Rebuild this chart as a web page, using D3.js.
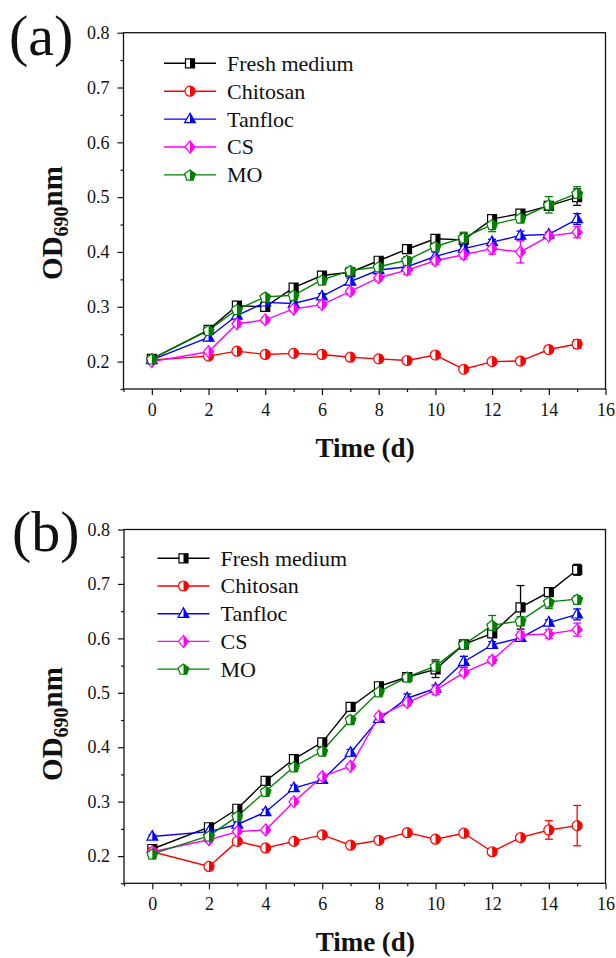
<!DOCTYPE html>
<html>
<head>
<meta charset="utf-8">
<script src="https://cdn.jsdelivr.net/npm/d3@7/dist/d3.min.js"></script>
<style>
  html, body { margin: 0; padding: 0; background: #fff; }
  svg { display: block; }
  text { font-family: "Liberation Serif", "Times New Roman", serif; fill: #111; }
</style>
</head>
<body>
<svg id="chart" width="616" height="958"></svg>
<script>
// Sampling days (no measurement on day 1)
const days = [0, 2, 3, 4, 5, 6, 7, 8, 9, 10, 11, 12, 13, 14, 15];

const seriesNames = ["Fresh medium", "Chitosan", "Tanfloc", "CS", "MO"];
const seriesColors = ["#000000", "#ff0000", "#0000ff", "#ff00ff", "#008000"];
const seriesSymbols = ["square", "circle", "triangle", "diamond", "pentagon"];

const xTicks = [0, 2, 4, 6, 8, 10, 12, 14, 16];
const yTicks = [0.2, 0.3, 0.4, 0.5, 0.6, 0.7, 0.8];

// Panel (a): OD690nm
const freshA    = [0.205, 0.258, 0.302, 0.300, 0.335, 0.357, 0.363, 0.384, 0.405, 0.424, 0.422, 0.460, 0.470, 0.484, 0.500];
const chitosanA = [0.203, 0.210, 0.219, 0.213, 0.215, 0.213, 0.208, 0.205, 0.202, 0.212, 0.186, 0.200, 0.201, 0.222, 0.232];
const tanflocA  = [0.203, 0.244, 0.284, 0.308, 0.306, 0.319, 0.346, 0.367, 0.373, 0.392, 0.406, 0.418, 0.430, 0.432, 0.460];
const csA       = [0.200, 0.218, 0.269, 0.276, 0.296, 0.304, 0.328, 0.353, 0.367, 0.384, 0.395, 0.406, 0.400, 0.429, 0.436];
const moA       = [0.205, 0.257, 0.295, 0.318, 0.321, 0.349, 0.366, 0.373, 0.385, 0.410, 0.426, 0.450, 0.462, 0.486, 0.507];

const freshErrA    = [0.004, 0.004, 0.005, 0.005, 0.005, 0.004, 0.004, 0.005, 0.004, 0.005, 0.012, 0.005, 0.007, 0.005, 0.015];
const chitosanErrA = [0.003, 0.003, 0.004, 0.003, 0.003, 0.003, 0.003, 0.003, 0.003, 0.004, 0.004, 0.003, 0.004, 0.004, 0.008];
const tanflocErrA  = [0.003, 0.006, 0.005, 0.005, 0.004, 0.005, 0.006, 0.005, 0.005, 0.008, 0.006, 0.005, 0.008, 0.004, 0.010];
const csErrA       = [0.003, 0.004, 0.005, 0.005, 0.005, 0.005, 0.006, 0.006, 0.008, 0.007, 0.008, 0.010, 0.020, 0.005, 0.010];
const moErrA       = [0.003, 0.005, 0.005, 0.005, 0.006, 0.005, 0.005, 0.005, 0.006, 0.006, 0.010, 0.013, 0.007, 0.015, 0.012];

// Panel (b): OD690nm
const freshB    = [0.213, 0.253, 0.287, 0.338, 0.378, 0.409, 0.474, 0.512, 0.529, 0.543, 0.589, 0.609, 0.657, 0.685, 0.726];
const chitosanB = [0.208, 0.181, 0.227, 0.215, 0.227, 0.239, 0.220, 0.229, 0.243, 0.231, 0.242, 0.208, 0.234, 0.248, 0.256];
const tanflocB  = [0.236, 0.245, 0.258, 0.281, 0.325, 0.340, 0.390, 0.452, 0.490, 0.508, 0.557, 0.588, 0.601, 0.629, 0.644];
const csB       = [0.208, 0.230, 0.245, 0.248, 0.300, 0.346, 0.365, 0.457, 0.482, 0.505, 0.537, 0.560, 0.606, 0.608, 0.616];
const moB       = [0.204, 0.237, 0.273, 0.319, 0.364, 0.393, 0.451, 0.502, 0.529, 0.549, 0.589, 0.624, 0.632, 0.667, 0.672];

const freshErrB    = [0.004, 0.004, 0.005, 0.005, 0.005, 0.005, 0.005, 0.005, 0.004, 0.015, 0.006, 0.006, 0.040, 0.005, 0.010];
const chitosanErrB = [0.003, 0.004, 0.004, 0.004, 0.004, 0.004, 0.004, 0.004, 0.004, 0.004, 0.004, 0.004, 0.005, 0.017, 0.037];
const tanflocErrB  = [0.003, 0.004, 0.004, 0.005, 0.005, 0.005, 0.006, 0.006, 0.008, 0.006, 0.010, 0.006, 0.006, 0.005, 0.010];
const csErrB       = [0.003, 0.004, 0.004, 0.005, 0.005, 0.005, 0.005, 0.005, 0.006, 0.008, 0.006, 0.006, 0.006, 0.008, 0.012];
const moErrB       = [0.003, 0.004, 0.005, 0.005, 0.005, 0.005, 0.006, 0.006, 0.006, 0.012, 0.006, 0.018, 0.008, 0.012, 0.006];

const svg = d3.select("#chart");

// ---- marker shapes: full outline and right-half fill ----
function polyPath(pts) {
  return "M" + pts.map(p => p[0].toFixed(2) + "," + p[1].toFixed(2)).join("L") + "Z";
}
function clipRightHalf(pts) {
  const out = [];
  for (let i = 0; i < pts.length; i++) {
    const a = pts[i], b = pts[(i + 1) % pts.length];
    const ain = a[0] >= 0, bin = b[0] >= 0;
    if (ain) out.push(a);
    if (ain !== bin) {
      const t = (0 - a[0]) / (b[0] - a[0]);
      out.push([0, a[1] + t * (b[1] - a[1])]);
    }
  }
  return out;
}
function shapePoints(sym) {
  switch (sym) {
    case "square":   return [[-4.5, -4.5], [4.5, -4.5], [4.5, 4.5], [-4.5, 4.5]];
    case "triangle": return [[0, -6], [5.4, 3.6], [-5.4, 3.6]];
    case "diamond":  return [[0, -6], [5, 0], [0, 6], [-5, 0]];
    case "pentagon": return d3.range(5).map(k => {
      const a = (-90 + 72 * k) * Math.PI / 180;
      return [5.6 * Math.cos(a), 5.6 * Math.sin(a) + 0.6];
    });
  }
  return null;
}
function markerPaths(sym) {
  if (sym === "circle") {
    const r = 5;
    return {
      full: `M0,${-r}A${r},${r} 0 1 1 0,${r}A${r},${r} 0 1 1 0,${-r}Z`,
      half: `M0,${-r}A${r},${r} 0 0 1 0,${r}Z`
    };
  }
  const pts = shapePoints(sym);
  return { full: polyPath(pts), half: polyPath(clipRightHalf(pts)) };
}
function drawMarker(g, x, y, sym, color) {
  const p = markerPaths(sym);
  const m = g.append("g").attr("transform", `translate(${x},${y})`);
  m.append("path").attr("d", p.full).attr("fill", "#fff");
  m.append("path").attr("d", p.half).attr("fill", color);
  m.append("path").attr("d", p.full).attr("fill", "none")
    .attr("stroke", color).attr("stroke-width", 1.2);
}

// ---- one panel ----
function drawPanel(cfg) {
  const x = d3.scaleLinear().domain([-1, 16]).range([cfg.left, cfg.right]);
  const y = d3.scaleLinear().domain([0.15, 0.8]).range([cfg.bottom, cfg.top]);
  const g = svg.append("g");

  // minor ticks
  g.append("g").attr("transform", `translate(0,${cfg.bottom})`)
    .call(d3.axisBottom(x).tickValues(d3.range(-1, 16, 2)).tickSize(3).tickFormat(""))
    .call(a => a.select(".domain").remove());
  g.append("g").attr("transform", `translate(${cfg.left},0)`)
    .call(d3.axisLeft(y).tickValues([0.15, 0.25, 0.35, 0.45, 0.55, 0.65, 0.75]).tickSize(3).tickFormat(""))
    .call(a => a.select(".domain").remove());

  // major ticks with labels
  const xa = g.append("g").attr("transform", `translate(0,${cfg.bottom})`)
    .call(d3.axisBottom(x).tickValues(xTicks).tickSize(6).tickPadding(8).tickFormat(d3.format("d")));
  xa.select(".domain").remove();
  const ya = g.append("g").attr("transform", `translate(${cfg.left},0)`)
    .call(d3.axisLeft(y).tickValues(yTicks).tickSize(6).tickPadding(8).tickFormat(d3.format(".1f")));
  ya.select(".domain").remove();
  g.selectAll(".tick line").attr("stroke", "#111").attr("stroke-width", 1.2);
  g.selectAll(".tick text").style("font-family", "'Liberation Serif', serif")
    .style("font-size", "18px").attr("fill", "#111");

  // frame
  g.append("rect").attr("x", cfg.left).attr("y", cfg.top)
    .attr("width", cfg.right - cfg.left).attr("height", cfg.bottom - cfg.top)
    .attr("fill", "none").attr("stroke", "#111").attr("stroke-width", 1.3);

  // series
  const line = d3.line().x((d, i) => x(days[i])).y(d => y(d));
  cfg.values.forEach((vals, s) => {
    const col = seriesColors[s];
    g.append("path").datum(vals).attr("d", line)
      .attr("fill", "none").attr("stroke", col).attr("stroke-width", 1.4);
  });
  cfg.values.forEach((vals, s) => {
    const col = seriesColors[s];
    const errs = cfg.errors[s];
    const eg = g.append("g").attr("stroke", col).attr("stroke-width", 1.3);
    vals.forEach((v, i) => {
      const cx = x(days[i]), y1 = y(v + errs[i]), y2 = y(v - errs[i]);
      eg.append("line").attr("x1", cx).attr("x2", cx).attr("y1", y1).attr("y2", y2);
      eg.append("line").attr("x1", cx - 4).attr("x2", cx + 4).attr("y1", y1).attr("y2", y1);
      eg.append("line").attr("x1", cx - 4).attr("x2", cx + 4).attr("y1", y2).attr("y2", y2);
    });
  });
  cfg.values.forEach((vals, s) => {
    vals.forEach((v, i) => drawMarker(g, x(days[i]), y(v), seriesSymbols[s], seriesColors[s]));
  });

  // legend
  seriesNames.forEach((name, s) => {
    const ly = cfg.legY + s * cfg.legStep;
    g.append("line").attr("x1", cfg.legX).attr("x2", cfg.legX + 52).attr("y1", ly).attr("y2", ly)
      .attr("stroke", seriesColors[s]).attr("stroke-width", 1.4);
    drawMarker(g, cfg.legX + 26, ly, seriesSymbols[s], seriesColors[s]);
    g.append("text").attr("x", cfg.legX + 63).attr("y", ly).attr("dy", "0.34em")
      .style("font-size", "22px").text(name);
  });

  // axis titles
  g.append("text").attr("x", (x(0) + x(15)) / 2 + 0.5).attr("y", cfg.bottom + 68)
    .attr("text-anchor", "middle").style("font-size", "27px").style("font-weight", "bold")
    .text("Time (d)");
  const yt = g.append("text").attr("transform", `translate(62,${cfg.yTitleY}) rotate(-90)`)
    .attr("text-anchor", "middle").style("font-size", "29px").style("font-weight", "bold");
  yt.append("tspan").text("OD");
  yt.append("tspan").attr("dy", 6).style("font-size", "20px").text("690");
  yt.append("tspan").attr("dy", -6).text("nm");

  // panel letter
  g.append("text").attr("x", cfg.letterX).attr("y", cfg.letterY)
    .style("font-size", "58px").text(cfg.letter);
}

drawPanel({
  left: 123.5, right: 605.5, top: 32.7, bottom: 389,
  values: [freshA, chitosanA, tanflocA, csA, moA],
  errors: [freshErrA, chitosanErrA, tanflocErrA, csErrA, moErrA],
  legX: 164, legY: 63.3, legStep: 27.9,
  yTitleY: 223, letter: "(a)", letterX: 9, letterY: 55
});

drawPanel({
  left: 124, right: 605.5, top: 529.5, bottom: 883.3,
  values: [freshB, chitosanB, tanflocB, csB, moB],
  errors: [freshErrB, chitosanErrB, tanflocErrB, csErrB, moErrB],
  legX: 157.5, legY: 558.3, legStep: 27.7,
  yTitleY: 724, letter: "(b)", letterX: 12, letterY: 551
});
</script>
</body>
</html>
